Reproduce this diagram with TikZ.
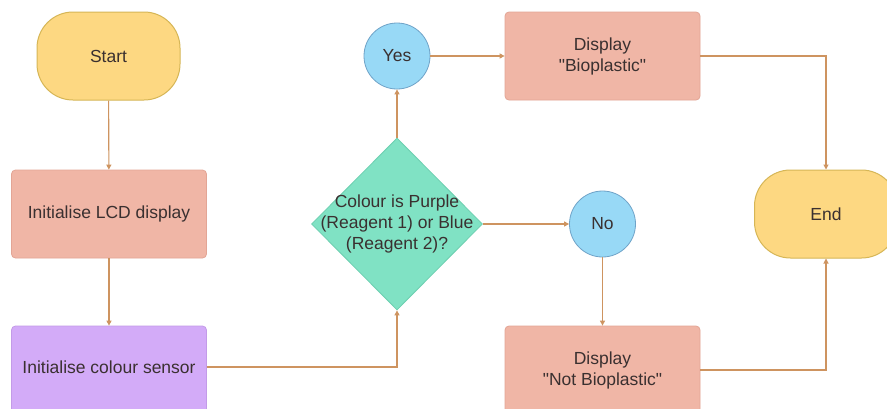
\documentclass[tikz,border=0pt]{standalone}
\usepackage{fontspec}
\setmainfont{Liberation Sans}[Ligatures=TeXOff]
\usetikzlibrary{shapes.geometric,arrows.meta}
\definecolor{termfill}{HTML}{FDD882}
\definecolor{termdraw}{HTML}{D6B656}
\definecolor{boxfill}{HTML}{F0B6A6}
\definecolor{boxdraw}{HTML}{E3A595}
\definecolor{purfill}{HTML}{D3ABF8}
\definecolor{purdraw}{HTML}{C39BE8}
\definecolor{decfill}{HTML}{80E2C4}
\definecolor{decdraw}{HTML}{6CCFB0}
\definecolor{cirfill}{HTML}{98D9F6}
\definecolor{cirdraw}{HTML}{6FA3C8}
\definecolor{linecol}{HTML}{CE9460}
\definecolor{txt}{HTML}{3A3030}
\begin{document}
\begin{tikzpicture}[x=1pt,y=-1pt,
  every node/.style={font=\fontsize{17.5}{21}\selectfont, text=txt, align=center},
  term/.style={rectangle, rounded corners=36pt, fill=termfill, draw=termdraw, line width=1pt, minimum width=143pt, minimum height=88pt},
  procbox/.style={rectangle, rounded corners=4pt, fill=boxfill, draw=boxdraw, line width=0.8pt, minimum width=195pt, minimum height=88pt},
  purbox/.style={procbox, fill=purfill, draw=purdraw},
  decshape/.style={diamond, fill=decfill, draw=decdraw, line width=0.8pt, minimum width=171pt, minimum height=172pt, inner sep=0pt},
  answer/.style={circle, fill=cirfill, draw=cirdraw, line width=0.8pt, minimum size=66pt, inner sep=0pt},
  conn/.style={draw=linecol, line width=1.1pt, -{Triangle[length=5pt,width=5pt]}}
]
\useasboundingbox (0,0) rectangle (887,408);
\clip (0,0) rectangle (887,408);
\fill[white] (0,0) rectangle (887,408);

\node[term] (start) at (108.5,56) {Start};
\node[procbox] (lcd) at (109,214) {Initialise LCD display};
\node[purbox] (sensor) at (109,370) {};
\node (sensortext) at (109,367) {Initialise colour sensor};
\node[decshape] (dec) at (397,224) {};
\node (dectext) at (397,224) {Colour is Purple\\(Reagent 1) or Blue\\(Reagent 2)?};
\node[answer] (yes) at (397,56) {Yes};
\node[answer] (no) at (602.5,224) {No};
\node[procbox] (bio) at (602.5,56) {Display\\"Bioplastic"};
\node[procbox] (notbio) at (602.5,370) {Display\\"Not Bioplastic"};
\node[term] (end) at (826,214) {End};

\draw[conn] (start) -- (lcd);
\draw[conn] (lcd) -- (sensor);
\draw[conn] (sensor.east |- sensortext) -| (dec.south);
\draw[conn] (dec.north) -- (yes);
\draw[conn] (yes) -- (bio);
\draw[conn] (dec.east) -- (no);
\draw[conn] (no) -- (notbio);
\draw[conn] (bio.east) -| (end.north);
\draw[conn] (notbio.east) -| (end.south);
\end{tikzpicture}
\end{document}
